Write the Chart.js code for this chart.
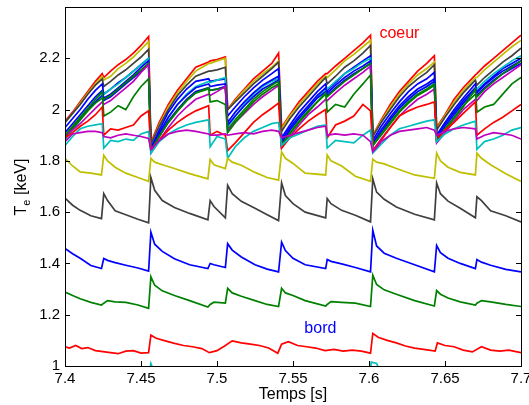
<!DOCTYPE html>
<html>
<head>
<meta charset="utf-8">
<script src="https://cdn.jsdelivr.net/npm/chart.js@4.4.0/dist/chart.umd.min.js"></script>
<style>
html,body{margin:0;padding:0;background:#fff;}
canvas{display:block;}
</style>
</head>
<body>
<canvas id="teChart" width="529" height="405" style="width:529px;height:405px"></canvas>
<script>
// tick labels
const xTicks = [7.4, 7.45, 7.5, 7.55, 7.6, 7.65, 7.7];
const yTicks = [1, 1.2, 1.4, 1.6, 1.8, 2, 2.2];

// core channels (sawtooth ramps), one row per cycle
const coreTimes = [
  7.4, 7.405, 7.41, 7.415, 7.42, 7.4245, 7.4255, 7.43, 7.435, 7.44, 7.445, 7.45, 7.455,
  7.4565, 7.462, 7.468, 7.474, 7.48, 7.486, 7.4945, 7.4955, 7.5, 7.5055,
  7.507, 7.512, 7.518, 7.524, 7.53, 7.536, 7.5405,
  7.5425, 7.548, 7.554, 7.56, 7.566, 7.5715, 7.5725, 7.578, 7.584, 7.59, 7.596, 7.601,
  7.6025, 7.608, 7.614, 7.62, 7.626, 7.632, 7.638, 7.643,
  7.6445, 7.65, 7.656, 7.662, 7.67, 7.671, 7.676, 7.682, 7.688, 7.694, 7.7
];
const redTop = [
  1.955, 1.99, 2.03, 2.07, 2.11, 2.14, 2.125, 2.15, 2.175, 2.195, 2.22, 2.25, 2.285,
  1.87, 1.95, 2.02, 2.075, 2.12, 2.165, 2.185, 2.19, 2.195, 2.205,
  2.0, 2.04, 2.08, 2.12, 2.15, 2.18, 2.22,
  1.93, 1.98, 2.03, 2.07, 2.11, 2.14, 2.14, 2.17, 2.2, 2.23, 2.26, 2.29,
  1.9, 1.96, 2.02, 2.07, 2.11, 2.15, 2.18, 2.21,
  1.93, 1.98, 2.04, 2.085, 2.135, 2.14, 2.17, 2.2, 2.23, 2.26, 2.29
];
const yellowTop = [
  1.95, 1.985, 2.025, 2.065, 2.1, 2.13, 2.115, 2.13, 2.16, 2.18, 2.205, 2.235, 2.265,
  1.865, 1.94, 2.01, 2.065, 2.11, 2.15, 2.18, 2.18, 2.19, 2.2,
  2.0, 2.035, 2.075, 2.11, 2.14, 2.165, 2.19,
  1.925, 1.975, 2.02, 2.06, 2.1, 2.13, 2.125, 2.155, 2.19, 2.215, 2.245, 2.27,
  1.9, 1.955, 2.01, 2.06, 2.1, 2.135, 2.16, 2.185,
  1.925, 1.975, 2.03, 2.075, 2.125, 2.125, 2.155, 2.185, 2.215, 2.245, 2.27
];
const grayTop = [
  1.95, 1.985, 2.02, 2.06, 2.095, 2.12, 2.09, 2.11, 2.135, 2.155, 2.18, 2.205, 2.235,
  1.865, 1.935, 2.0, 2.055, 2.095, 2.13, 2.15, 2.15, 2.155, 2.165,
  2.0, 2.03, 2.065, 2.1, 2.13, 2.16, 2.185,
  1.915, 1.965, 2.01, 2.05, 2.09, 2.125, 2.1, 2.13, 2.165, 2.19, 2.22, 2.25,
  1.895, 1.95, 2.0, 2.05, 2.09, 2.12, 2.145, 2.175,
  1.92, 1.97, 2.02, 2.065, 2.115, 2.095, 2.125, 2.155, 2.185, 2.21, 2.24
];
const blueA = [
  1.93, 1.965, 2.0, 2.04, 2.075, 2.1, 2.06, 2.08, 2.105, 2.125, 2.15, 2.175, 2.2,
  1.85, 1.92, 1.99, 2.04, 2.08, 2.11, 2.12, 2.11, 2.115, 2.12,
  1.975, 2.01, 2.05, 2.085, 2.115, 2.14, 2.16,
  1.89, 1.94, 1.99, 2.03, 2.07, 2.1, 2.075, 2.105, 2.14, 2.165, 2.19, 2.21,
  1.88, 1.935, 1.985, 2.03, 2.07, 2.1, 2.12, 2.145,
  1.9, 1.95, 2.0, 2.045, 2.1, 2.07, 2.1, 2.13, 2.16, 2.18, 2.2
];
const cyanA = [
  1.88, 1.92, 1.96, 2.0, 2.04, 2.065, 2.06, 2.08, 2.1, 2.125, 2.15, 2.175, 2.2,
  1.84, 1.9, 1.97, 2.02, 2.06, 2.09, 2.11, 2.105, 2.115, 2.125,
  1.93, 1.975, 2.02, 2.06, 2.09, 2.11, 2.12,
  1.87, 1.92, 1.97, 2.01, 2.05, 2.08, 2.08, 2.11, 2.14, 2.16, 2.185, 2.2,
  1.86, 1.91, 1.96, 2.01, 2.04, 2.07, 2.09, 2.11,
  1.89, 1.94, 1.99, 2.035, 2.08, 2.08, 2.11, 2.14, 2.165, 2.19, 2.21
];
const blueB = [
  1.91, 1.945, 1.98, 2.015, 2.05, 2.075, 2.045, 2.06, 2.085, 2.11, 2.135, 2.165, 2.19,
  1.85, 1.91, 1.97, 2.02, 2.055, 2.085, 2.1, 2.09, 2.095, 2.1,
  1.95, 1.99, 2.03, 2.065, 2.095, 2.115, 2.13,
  1.88, 1.93, 1.975, 2.015, 2.055, 2.085, 2.065, 2.095, 2.125, 2.15, 2.17, 2.19,
  1.87, 1.92, 1.97, 2.015, 2.05, 2.08, 2.1, 2.12,
  1.9, 1.945, 1.99, 2.035, 2.085, 2.065, 2.095, 2.125, 2.15, 2.17, 2.19
];
const blueC = [
  1.895, 1.93, 1.965, 2.0, 2.03, 2.055, 2.035, 2.05, 2.075, 2.1, 2.125, 2.15, 2.175,
  1.84, 1.9, 1.955, 2.0, 2.04, 2.07, 2.085, 2.075, 2.08, 2.09,
  1.94, 1.975, 2.015, 2.05, 2.08, 2.1, 2.115,
  1.87, 1.92, 1.965, 2.005, 2.045, 2.07, 2.055, 2.085, 2.115, 2.14, 2.16, 2.18,
  1.86, 1.91, 1.96, 2.005, 2.04, 2.07, 2.09, 2.11,
  1.89, 1.935, 1.98, 2.025, 2.075, 2.055, 2.085, 2.115, 2.14, 2.16, 2.18
];
const greenA = [
  1.89, 1.925, 1.96, 1.995, 2.025, 2.045, 2.04, 2.055, 2.08, 2.105, 2.13, 2.155, 2.18,
  1.84, 1.895, 1.95, 1.995, 2.035, 2.065, 2.08, 2.075, 2.08, 2.085,
  1.92, 1.96, 2.0, 2.04, 2.07, 2.095, 2.11,
  1.86, 1.91, 1.955, 1.995, 2.03, 2.06, 2.05, 2.08, 2.11, 2.135, 2.16, 2.18,
  1.86, 1.905, 1.95, 1.995, 2.03, 2.06, 2.08, 2.1,
  1.88, 1.925, 1.97, 2.015, 2.06, 2.05, 2.08, 2.11, 2.14, 2.165, 2.19
];
const magentaA = [
  1.9, 1.92, 1.945, 1.975, 2.005, 2.03, 2.02, 2.035, 2.06, 2.085, 2.11, 2.145, 2.175,
  1.83, 1.88, 1.93, 1.975, 2.01, 2.04, 2.06, 2.055, 2.07, 2.09,
  1.915, 1.95, 1.985, 2.02, 2.05, 2.075, 2.095,
  1.85, 1.895, 1.94, 1.98, 2.01, 2.04, 2.035, 2.065, 2.095, 2.12, 2.145, 2.17,
  1.84, 1.885, 1.93, 1.975, 2.01, 2.04, 2.06, 2.08,
  1.87, 1.91, 1.955, 2.0, 2.04, 2.035, 2.07, 2.1, 2.125, 2.15, 2.175
];
const greenB = [
  1.9, 1.935, 1.97, 2.005, 2.04, 2.07, 1.975, 1.99, 2.015, 2.0, 2.05, 2.09, 2.12,
  1.84, 1.895, 1.95, 1.995, 2.035, 2.065, 2.085, 2.03, 2.035, 2.02,
  1.91, 1.95, 1.99, 2.03, 2.06, 2.085, 2.1,
  1.86, 1.905, 1.95, 1.99, 2.03, 2.065, 1.99, 2.02, 2.01, 2.06, 2.1, 2.135,
  1.86, 1.9, 1.945, 1.99, 2.025, 2.055, 2.075, 2.095,
  1.88, 1.92, 1.965, 2.01, 2.08, 1.99, 2.01, 2.02, 2.06, 2.1, 2.125
];
const redLow = [
  1.89, 1.91, 1.935, 1.955, 1.98, 2.01, 1.9, 1.925, 1.92, 1.93, 1.94, 1.975, 1.995,
  1.84, 1.88, 1.92, 1.95, 1.975, 1.995, 2.015, 1.9, 1.915, 1.9,
  1.84, 1.87, 1.91, 1.95, 1.98, 2.005, 2.025,
  1.85, 1.89, 1.925, 1.955, 1.98, 2.0, 1.89, 1.94, 1.955, 1.975, 2.02, 1.995,
  1.84, 1.88, 1.93, 1.975, 1.995, 2.01, 2.02, 2.03,
  1.885, 1.92, 1.95, 1.985, 2.03, 1.9, 1.925, 1.95, 1.97, 1.995, 2.02
];
const cyanLow = [
  1.86, 1.895, 1.925, 1.935, 1.94, 1.945, 1.85, 1.88, 1.875, 1.885, 1.88, 1.905, 1.915,
  1.83, 1.875, 1.905, 1.925, 1.94, 1.95, 1.96, 1.855, 1.895, 1.885,
  1.81, 1.855, 1.89, 1.915, 1.93, 1.945, 1.95,
  1.86, 1.89, 1.905, 1.92, 1.935, 1.94, 1.85, 1.88, 1.875, 1.87, 1.9, 1.92,
  1.83, 1.865, 1.9, 1.925, 1.935, 1.945, 1.955, 1.96,
  1.875, 1.905, 1.925, 1.94, 1.955, 1.845, 1.875, 1.885, 1.9, 1.92, 1.93
];
const magentaLow = [
  1.875, 1.905, 1.91, 1.915, 1.915, 1.91, 1.895, 1.89, 1.9, 1.905, 1.9, 1.895, 1.887,
  1.845, 1.88, 1.905, 1.915, 1.92, 1.915, 1.905, 1.9, 1.9, 1.905,
  1.9, 1.905, 1.91, 1.905, 1.915, 1.92, 1.915,
  1.89, 1.9, 1.91, 1.92, 1.93, 1.935, 1.9, 1.905, 1.9, 1.905, 1.9, 1.875,
  1.835, 1.875, 1.9, 1.915, 1.92, 1.925, 1.93, 1.92,
  1.9, 1.915, 1.925, 1.93, 1.925, 1.885, 1.9, 1.91, 1.905, 1.9, 1.885
];

// outer channels (heat pulses after each crash)
const outerTimes = [
  7.4, 7.405, 7.41, 7.417, 7.424, 7.4255, 7.428, 7.433, 7.44, 7.448, 7.455,
  7.4565, 7.459, 7.464, 7.472, 7.482, 7.494, 7.4955, 7.498, 7.5055,
  7.507, 7.51, 7.516, 7.525, 7.533, 7.5405,
  7.5425, 7.545, 7.55, 7.558, 7.5715, 7.5725, 7.575, 7.582, 7.591, 7.601,
  7.6025, 7.605, 7.61, 7.618, 7.63, 7.643,
  7.6445, 7.647, 7.652, 7.66, 7.67, 7.671, 7.674, 7.68, 7.69, 7.7
];
const yellowOut = [
  1.81, 1.78, 1.757, 1.752, 1.745, 1.822, 1.8, 1.775, 1.752, 1.735, 1.72,
  1.81, 1.795, 1.785, 1.77, 1.75, 1.73, 1.805, 1.785, 1.77,
  1.81, 1.795, 1.783, 1.755, 1.735, 1.725,
  1.835, 1.81, 1.79, 1.752, 1.745, 1.823, 1.8, 1.78, 1.74, 1.72,
  1.807, 1.795, 1.788, 1.77, 1.745, 1.732,
  1.83, 1.8, 1.775, 1.755, 1.745, 1.83, 1.81, 1.785, 1.75, 1.72
];
const grayOut = [
  1.655, 1.627, 1.607, 1.586, 1.575, 1.672, 1.645, 1.605, 1.59, 1.572, 1.558,
  1.735, 1.685, 1.645, 1.618, 1.595, 1.57, 1.645, 1.622, 1.578,
  1.705, 1.672, 1.642, 1.615, 1.59, 1.567,
  1.714, 1.665, 1.633, 1.6, 1.578, 1.653, 1.633, 1.607, 1.588, 1.562,
  1.73, 1.678, 1.65, 1.62, 1.592, 1.57,
  1.714, 1.672, 1.643, 1.615, 1.578, 1.66, 1.645, 1.605, 1.586, 1.562
];
const blueOut = [
  1.458, 1.438, 1.42, 1.392, 1.38, 1.419, 1.412, 1.403, 1.393, 1.382, 1.37,
  1.522, 1.475, 1.447, 1.418, 1.395, 1.38, 1.4, 1.395, 1.384,
  1.477, 1.452, 1.425, 1.395, 1.378, 1.367,
  1.483, 1.45, 1.42, 1.395, 1.38, 1.415, 1.408, 1.398, 1.384, 1.367,
  1.529, 1.468, 1.44, 1.42, 1.395, 1.367,
  1.47, 1.442, 1.42, 1.4, 1.38, 1.415, 1.405, 1.393, 1.377, 1.367
];
const greenOut = [
  1.288, 1.275, 1.262, 1.248, 1.238, 1.245, 1.255, 1.25, 1.248, 1.238, 1.225,
  1.348, 1.315, 1.293, 1.275, 1.255, 1.23, 1.24, 1.249, 1.245,
  1.303, 1.285, 1.272, 1.255, 1.24, 1.232,
  1.303, 1.285, 1.275, 1.255, 1.234, 1.24, 1.251, 1.248, 1.245, 1.232,
  1.354, 1.318, 1.297, 1.28, 1.255, 1.234,
  1.294, 1.28, 1.265, 1.25, 1.238, 1.245, 1.255, 1.25, 1.24, 1.232
];

// edge channel (bord)
const redOutTimes = [
  7.4, 7.403, 7.407, 7.411, 7.415, 7.42, 7.425, 7.43, 7.435, 7.44, 7.445, 7.45, 7.455,
  7.4565, 7.46, 7.466, 7.472, 7.478, 7.484, 7.49, 7.495, 7.5, 7.505,
  7.51, 7.516, 7.522, 7.528, 7.534, 7.54,
  7.5425, 7.547, 7.553, 7.559, 7.565, 7.571, 7.577, 7.583, 7.589, 7.595, 7.601,
  7.6025, 7.606, 7.612, 7.618, 7.624, 7.63, 7.636, 7.6435,
  7.645, 7.65, 7.656, 7.662, 7.668, 7.674, 7.68, 7.686, 7.692, 7.7
];
const redOut = [
  1.075, 1.07, 1.08, 1.068, 1.072, 1.06, 1.056, 1.052, 1.048, 1.058, 1.06, 1.05, 1.052,
  1.12, 1.108, 1.098, 1.088, 1.08, 1.075, 1.068, 1.052, 1.06, 1.078,
  1.098, 1.09, 1.085, 1.08, 1.07, 1.05,
  1.085, 1.095, 1.08, 1.075, 1.07, 1.06, 1.065, 1.058, 1.062, 1.058, 1.05,
  1.127, 1.112, 1.1, 1.09, 1.078, 1.07, 1.065, 1.058,
  1.09, 1.08, 1.075, 1.062, 1.055, 1.075, 1.062, 1.058, 1.062, 1.052
];

// last channel, almost entirely below the axis
const cyanEdgeTimes = [7.4, 7.455, 7.4565, 7.4575, 7.459, 7.6, 7.6015, 7.605, 7.608, 7.7];
const cyanEdge      = [0.95, 0.95, 1.01, 0.995, 0.95, 0.95, 1.015, 1.01, 0.97, 0.95];

const RED = "#ff0000", YEL = "#bfbf00", GRY = "#404040", BLU = "#0000ff",
      CYA = "#00bfbf", GRN = "#008000", MAG = "#bf00bf";

function line(times, vals, color){
  return {
    data: times.map((t,i) => ({x:t, y:vals[i]})),
    borderColor: color,
    borderWidth: 1.7,
    pointRadius: 0,
    tension: 0,
    fill: false
  };
}

const datasets = [
  line(cyanEdgeTimes, cyanEdge, CYA),
  line(redOutTimes, redOut, RED),
  line(outerTimes, greenOut, GRN),
  line(outerTimes, blueOut, BLU),
  line(outerTimes, grayOut, GRY),
  line(outerTimes, yellowOut, YEL),
  line(coreTimes, magentaLow, MAG),
  line(coreTimes, cyanLow, CYA),
  line(coreTimes, redLow, RED),
  line(coreTimes, greenB, GRN),
  line(coreTimes, magentaA, MAG),
  line(coreTimes, greenA, GRN),
  line(coreTimes, blueC, BLU),
  line(coreTimes, blueB, BLU),
  line(coreTimes, cyanA, CYA),
  line(coreTimes, blueA, BLU),
  line(coreTimes, grayTop, GRY),
  line(coreTimes, yellowTop, YEL),
  line(coreTimes, redTop, RED)
];

const FONT = "'Liberation Sans', Arial, Helvetica, sans-serif";

const decor = {
  id: "decor",
  afterDatasetsDraw(chart){
    const c = chart.ctx, a = chart.chartArea;
    const xs = chart.scales.x, ys = chart.scales.y;
    c.save();
    c.strokeStyle = "#000";
    c.lineWidth = 1;
    c.strokeRect(Math.round(a.left) + 0.5, Math.round(a.top) + 0.5,
                 Math.round(a.right - a.left), Math.round(a.bottom - a.top));
    c.beginPath();
    xTicks.forEach(v => {
      const px = Math.round(xs.getPixelForValue(v)) + 0.5;
      c.moveTo(px, a.bottom); c.lineTo(px, a.bottom - 5);
      c.moveTo(px, a.top); c.lineTo(px, a.top + 5);
    });
    yTicks.forEach(v => {
      const py = Math.round(ys.getPixelForValue(v)) + 0.5;
      c.moveTo(a.left, py); c.lineTo(a.left + 5, py);
      c.moveTo(a.right, py); c.lineTo(a.right - 5, py);
    });
    c.stroke();

    c.font = "16px " + FONT;
    c.textAlign = "center";
    c.textBaseline = "middle";
    c.fillStyle = RED;
    c.fillText("coeur", xs.getPixelForValue(7.62), ys.getPixelForValue(2.297));
    c.fillStyle = BLU;
    c.fillText("bord", xs.getPixelForValue(7.568), ys.getPixelForValue(1.145));

    c.fillStyle = "#000";
    c.fillText("Temps [s]", (a.left + a.right) / 2, 395);

    // y label: T with subscript e
    c.translate(22, 187);
    c.rotate(-Math.PI / 2);
    c.textAlign = "left";
    const big = "16px " + FONT, small = "11px " + FONT;
    c.font = big; const wT = c.measureText("T").width;
    c.font = small; const wE = c.measureText("e").width;
    c.font = big; const wR = c.measureText(" [keV]").width;
    const x0 = -(wT + wE + wR) / 2;
    c.font = big; c.fillText("T", x0, 0);
    c.font = small; c.fillText("e", x0 + wT, 5);
    c.font = big; c.fillText(" [keV]", x0 + wT + wE, 0);
    c.restore();
  }
};

new Chart(document.getElementById("teChart"), {
  type: "line",
  data: { datasets: datasets },
  options: {
    responsive: false,
    animation: false,
    devicePixelRatio: 1,
    events: [],
    layout: { padding: { top: 7, right: 8, left: 0, bottom: 0 } },
    plugins: { legend: { display: false }, tooltip: { enabled: false } },
    scales: {
      x: {
        type: "linear",
        min: 7.4, max: 7.7,
        grid: { display: false, drawTicks: false },
        border: { display: false },
        afterBuildTicks: s => { s.ticks = xTicks.map(v => ({value: v})); },
        afterFit: s => { s.height = 39; s.paddingLeft = 0; s.paddingRight = 0; },
        ticks: {
          color: "#000", padding: 4, maxRotation: 0, autoSkip: false,
          font: { family: FONT, size: 15 },
          callback: v => String(Number(v.toFixed(2)))
        }
      },
      y: {
        type: "linear",
        min: 1, max: 2.4,
        grid: { display: false, drawTicks: false },
        border: { display: false },
        afterBuildTicks: s => { s.ticks = yTicks.map(v => ({value: v})); },
        afterFit: s => { s.width = 65; s.paddingTop = 0; s.paddingBottom = 0; },
        ticks: {
          color: "#000", padding: 5, autoSkip: false,
          font: { family: FONT, size: 15 },
          callback: v => String(Number(v.toFixed(2)))
        }
      }
    }
  },
  plugins: [decor]
});
</script>
</body>
</html>
